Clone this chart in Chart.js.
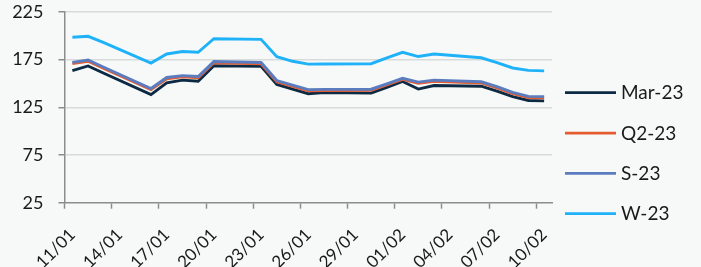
<!DOCTYPE html>
<html>
<head>
<meta charset="utf-8">
<script src="https://cdn.jsdelivr.net/npm/chart.js@4"></script>
<style>
  html, body { margin: 0; padding: 0; background: #f7f9f9; }
  #wrap { width: 701px; height: 267px; position: relative; }
</style>
</head>
<body>
<div id="wrap"><canvas id="c"></canvas></div>
<script>
// Trading days (dd/mm)
const dates = ['11/01','12/01','13/01','16/01','17/01','18/01','19/01','20/01','23/01','24/01','25/01','26/01','27/01','30/01','31/01','01/02','02/02','03/02','06/02','07/02','08/02','09/02','10/02'];
// Series values
const mar23 = [163.5,168.4,160.8,138.3,150.6,153.5,152.3,168.7,168.0,149.0,144.0,139.3,140.5,139.9,146.0,152.1,144.2,147.9,147.2,142.0,136.3,132.2,131.8];
const q223  = [171.0,173.3,165.8,143.6,155.0,157.0,156.0,171.8,170.8,151.9,147.0,142.4,142.6,142.8,148.5,154.3,150.3,152.3,150.6,145.5,139.5,135.3,135.0];
const s23   = [172.2,174.6,167.0,144.8,156.3,158.3,157.3,173.0,172.0,153.1,148.2,143.6,143.8,144.0,149.7,155.5,151.5,153.5,151.8,146.7,140.7,136.5,136.2];
const w23   = [198.5,199.5,192.8,171.5,181.0,183.5,182.8,197.0,196.3,178.2,173.3,170.3,170.4,170.8,177.0,182.7,178.3,181.0,177.0,172.0,166.3,163.8,163.3];
const seriesNames = ['Mar-23','Q2-23','S-23','W-23'];
// Tick labels (every third day starting 11/01)
const xTickLabels = ['11/01','14/01','17/01','20/01','23/01','26/01','29/01','01/02','04/02','07/02','10/02'];
const yTicks = [25, 75, 125, 175, 225];

const colors = ['#0c2a44', '#e45c30', '#5b7dbf', '#20b2f8'];
const FONT = 'Lato';
const LABEL_SHIFT = 0.5; // day offset of rotated label anchor relative to its tick mark

// day index from 11/01 (day slot), points at slot centre
function dayIndex(s) {
  const [d, m] = s.split('/').map(Number);
  return m === 1 ? d - 11 : 21 + (d - 1);
}
function toPts(vals) {
  return dates.map((s, i) => ({ x: dayIndex(s) + 0.5, y: vals[i] }));
}
const allSeries = [mar23, q223, s23, w23];

const bgPlugin = {
  id: 'bg',
  beforeDraw(chart) {
    const ctx = chart.ctx;
    ctx.save();
    ctx.fillStyle = '#f7f9f9';
    ctx.fillRect(0, 0, chart.width, chart.height);
    ctx.restore();
  }
};

const legendPlugin = {
  id: 'sideLegend',
  afterDraw(chart) {
    const ctx = chart.ctx;
    const ys = [92.5, 133, 173.3, 213.7];
    ctx.save();
    chart.data.datasets.forEach((ds, i) => {
      ctx.strokeStyle = ds.borderColor;
      ctx.lineWidth = 2.75;
      ctx.beginPath();
      ctx.moveTo(565, ys[i]);
      ctx.lineTo(616, ys[i]);
      ctx.stroke();
      ctx.fillStyle = '#1a1a1a';
      ctx.font = '19px ' + FONT;
      ctx.textBaseline = 'middle';
      ctx.textAlign = 'left';
      ctx.fillText(ds.label, 621, ys[i] + 0.5);
    });
    ctx.restore();
  }
};

new Chart(document.getElementById('c'), {
  type: 'line',
  data: {
    datasets: seriesNames.map((n, i) => ({
      label: n,
      data: toPts(allSeries[i]),
      borderColor: colors[i],
      backgroundColor: colors[i],
      borderWidth: 2.9,
      pointRadius: 0,
      tension: 0,
      order: 4 - i,
      xAxisID: 'x',
      yAxisID: 'y'
    }))
  },
  options: {
    responsive: true,
    maintainAspectRatio: false,
    animation: false,
    layout: { padding: { top: 12, right: 149, bottom: 0, left: 0 } },
    plugins: { legend: { display: false }, tooltip: { enabled: false } },
    scales: {
      x: {
        type: 'linear',
        position: 'bottom',
        weight: 0,
        min: 0,
        max: 31,
        afterBuildTicks(scale) {
          scale.ticks = xTickLabels.map((l, i) => ({ value: i * 3 }));
        },
        afterFit(scale) { scale.height = 6; scale.paddingLeft = 0; scale.paddingRight = 0; },
        ticks: { display: false },
        grid: {
          drawOnChartArea: false,
          tickLength: 6,
          tickColor: '#8c8c8c',
          tickWidth: 1.5
        },
        border: { color: '#8c8c8c', width: 1.5 }
      },
      xl: {
        type: 'linear',
        position: 'bottom',
        weight: 1,
        min: 0,
        max: 31,
        afterBuildTicks(scale) {
          scale.ticks = xTickLabels.map((l, i) => ({ value: i * 3 + LABEL_SHIFT }));
        },
        afterFit(scale) { scale.height = 58.3; scale.paddingLeft = 0; scale.paddingRight = 0; },
        ticks: {
          callback: (v) => xTickLabels[Math.round((v - LABEL_SHIFT) / 3)],
          maxRotation: 45,
          minRotation: 45,
          padding: 16,
          color: '#1a1a1a',
          font: { family: FONT, size: 17 }
        },
        grid: { display: false, drawTicks: false, tickLength: 0 },
        border: { display: false }
      },
      y: {
        min: 25,
        max: 225,
        afterBuildTicks(scale) {
          scale.ticks = yTicks.map(v => ({ value: v }));
        },
        afterFit(scale) { scale.width = 64.5; scale.paddingTop = 0; scale.paddingBottom = 0; },
        ticks: {
          padding: 15,
          color: '#1a1a1a',
          font: { family: FONT, size: 18 }
        },
        grid: {
          color: (c) => (c.tick && c.tick.value === 25) ? 'rgba(0,0,0,0)' : '#d7dbda',
          lineWidth: 1.5,
          tickLength: 6,
          tickColor: '#8c8c8c',
          tickWidth: 1.5
        },
        border: { color: '#8c8c8c', width: 1.5 }
      }
    }
  },
  plugins: [bgPlugin, legendPlugin]
});
</script>
</body>
</html>
